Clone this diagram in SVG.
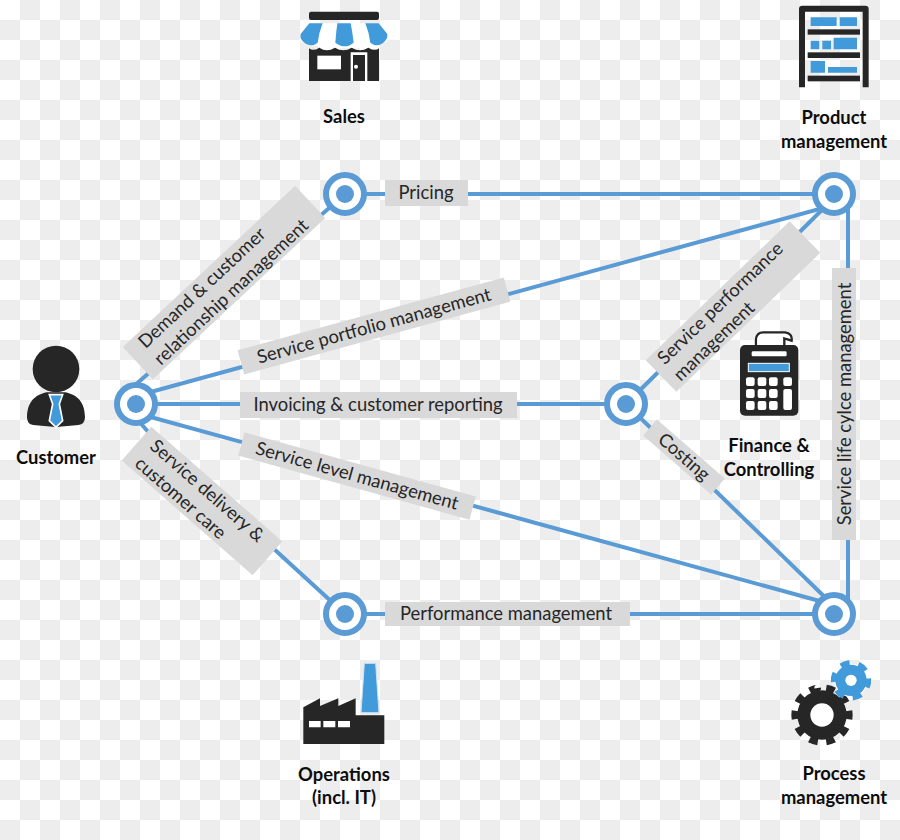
<svg xmlns="http://www.w3.org/2000/svg" width="900" height="840" viewBox="0 0 900 840">
<style>
text{font-family:"Lato","Open Sans","Liberation Sans",sans-serif;text-anchor:middle}
.t{font-size:18.4px;font-weight:700;fill:#0d0d0d}
.l{font-size:18.4px;fill:#262626}
.s{text-anchor:start}
.b{fill:#d9d9d9}
.c{fill:none;stroke:#5b9bd5;stroke-width:4}
.o{fill:#fff;stroke:#5b9bd5;stroke-width:6}
.i{fill:#5b9bd5}
.k{fill:#262626}
.u{fill:#419ad9}
.w{fill:#fff}
</style>
<defs>
<pattern id="ck" width="40" height="40" patternUnits="userSpaceOnUse"><rect width="40" height="40" fill="#fff"/><rect x="20" width="20" height="20" fill="#ededed"/><rect y="20" width="20" height="20" fill="#ededed"/></pattern>
<g id="node"><circle r="19" class="o"/><circle r="9" class="i"/></g>
</defs>
<rect id="background" width="900" height="840" fill="url(#ck)"/>
<g id="connectors">
<path class="c" d="M134 386L150 372"/>
<path class="c" d="M320 216L336 202"/>
<path class="c" d="M136 396L834 205"/>
<path class="c" d="M136 404H626"/>
<path class="c" d="M136 413L834 605"/>
<path class="c" d="M136 418L150 434"/>
<path class="c" d="M274 549L345 614"/>
<path class="c" d="M345 194H834"/>
<path class="c" d="M626 404L834 198"/>
<path class="c" d="M626 404L834 606"/>
<path class="c" d="M848 200V608"/>
<path class="c" d="M345 614H834"/>
</g>
<g id="edge-labels">
<g id="label-pricing"><rect class="b" x="385" y="180" width="83" height="26"/><text class="l" x="426" y="199">Pricing</text></g>
<g id="label-invoicing"><rect class="b" x="240" y="392" width="277" height="26"/><text class="l" x="378" y="411">Invoicing &amp; customer reporting</text></g>
<g id="label-performance"><rect class="b" x="385" y="602" width="245" height="24"/><text class="l" x="506" y="620">Performance management</text></g>
<g id="label-portfolio" transform="translate(374 326) rotate(-15.3)"><rect class="b" x="-138" y="-12.5" width="276" height="25"/><text class="l" y="6">Service portfolio management</text></g>
<g id="label-level" transform="translate(357 476) rotate(15.5)"><rect class="b" x="-120" y="-12" width="240" height="24"/><text class="l" y="6">Service level management</text></g>
<g id="label-demand" transform="translate(224 282.5) rotate(-43.1)"><rect class="b" x="-118" y="-22" width="236" height="44"/><text class="l s" x="-103" y="-5">Demand &amp; customer</text><text class="l s" x="-103" y="18">relationship management</text></g>
<g id="label-delivery" transform="translate(202 501) rotate(41.2)"><rect class="b" x="-87" y="-22.5" width="174" height="45"/><text class="l s" x="-75" y="-5">Service delivery &amp;</text><text class="l s" x="-75" y="18">customer care</text></g>
<g id="label-svcperf" transform="translate(733 306.5) rotate(-44)"><rect class="b" x="-100" y="-22" width="200" height="44"/><text class="l s" x="-90" y="-5">Service performance</text><text class="l s" x="-90" y="18">management</text></g>
<g id="label-costing" transform="translate(684 457) rotate(41)"><rect class="b" x="-45" y="-10.5" width="90" height="21"/><text class="l" y="6">Costing</text></g>
<g id="label-lifecycle" transform="translate(844 404) rotate(-90)"><rect class="b" x="-136" y="-12" width="272" height="24"/><text class="l" y="7">Service life cylce management</text></g>
</g>
<use id="node-customer" href="#node" x="136" y="404"/>
<use id="node-sales" href="#node" x="345" y="194"/>
<use id="node-product" href="#node" x="834" y="194"/>
<use id="node-finance" href="#node" x="626" y="404"/>
<use id="node-operations" href="#node" x="345" y="614"/>
<use id="node-process" href="#node" x="834" y="614"/>
<g id="sales">
<g transform="translate(280 0) scale(.3333)">
<rect class="k" x="87" y="35" width="210" height="25" rx="6"/>
<path class="w" d="M88 70H296L322 103V125L250 145H130L62 125V103Z"/>
<path class="k" d="M87 145Q100 155 118 143Q140 158 165 143Q190 158 215 143Q240 158 265 143Q285 155 297 145V243H87Z"/>
<rect class="w" x="112" y="167" width="71" height="41"/>
<path class="w" d="M212 157H262V243H255V165H219V243H212Z"/><circle class="w" cx="228" cy="200" r="6"/>
<path class="u" d="M88 70H128Q116 100 113 128Q95 143 75 130Q58 118 62 102Z"/>
<path class="u" d="M172 70H212Q218 100 221 128Q195 150 166 128Q168 100 172 70Z"/>
<path class="u" d="M256 70H296L322 102Q324 118 308 130Q290 143 271 128Q268 100 256 70Z"/>
</g>
<text class="t" x="344" y="123">Sales</text>
</g>
<g id="product">
<g transform="translate(770 0) scale(.3333)">
<path class="k" d="M87 262V27Q87 17 97 17H286Q296 17 296 27V262H278V35H105V262Z"/>
<rect class="k" x="113" y="88" width="157" height="16"/><rect class="k" x="113" y="157" width="157" height="17"/><rect class="k" x="113" y="227" width="157" height="17"/>
<path class="u" d="M122 52H200V78H122ZM209 52H261V78H209ZM122 122H148V148H122ZM157 122H183V148H157ZM191 113H261V148H191ZM122 183H165V218H122ZM174 201H261V218H174Z"/>
</g>
<text class="t" x="834" y="124">Product</text><text class="t" x="834" y="148">management</text>
</g>
<g id="customer">
<g transform="translate(0 330) scale(.3333)">
<circle class="k" cx="168" cy="117" r="70"/>
<path class="k" d="M140 187C105 195 82 215 81 262Q81 283 100 285C120 288 145 288 168 292C190 288 215 288 235 285Q255 283 255 262C254 215 232 195 196 187Z"/>
<path class="u" stroke="#fff" stroke-width="5" d="M148 194H188L178 222L188 272L168 292L148 272L158 222Z"/>
</g>
<text class="t" x="56" y="464">Customer</text>
</g>
<g id="finance">
<g transform="translate(600 210) scale(.3333)">
<path class="w" stroke="#262626" stroke-width="7" d="M468 425V388Q470 367 490 367H555Q578 370 575 392L553 385V425Z"/>
<rect class="k" x="420" y="405" width="175" height="212" rx="15"/>
<path class="w" d="M472 405V388Q473 373 490 373H553Q570 375 568 385L548 380V405Z"/>
<rect class="w" x="455" y="424" width="105" height="15" rx="4"/>
<rect class="u" stroke="#fff" stroke-width="3" x="445" y="460" width="123" height="25"/>
<g class="w"><rect x="438" y="502" width="26" height="26" rx="6"/><rect x="473" y="502" width="26" height="26" rx="6"/><rect x="507" y="502" width="26" height="26" rx="6"/><rect x="550" y="502" width="26" height="26" rx="6"/><rect x="438" y="537" width="26" height="27" rx="6"/><rect x="473" y="537" width="26" height="27" rx="6"/><rect x="507" y="537" width="26" height="27" rx="6"/><rect x="550" y="537" width="26" height="63" rx="6"/><rect x="438" y="573" width="26" height="27" rx="6"/><rect x="473" y="573" width="26" height="27" rx="6"/><rect x="507" y="573" width="26" height="27" rx="6"/></g>
</g>
<text class="t" x="769" y="452">Finance &amp;</text><text class="t" x="769" y="476">Controlling</text>
</g>
<g id="operations">
<g transform="translate(285 650) scale(.3333)">
<path class="u" stroke="#cfe3f3" stroke-width="3" d="M238 40H272L282 188H228Z"/>
<path class="k" d="M55 282V172L105 145V168L160 145V168L212 145V196H298V282Z"/>
<path class="w" d="M72 213H107V232H72ZM115 213H151V232H115ZM159 213H195V232H159Z"/>
</g>
<text class="t" x="344" y="781">Operations</text><text class="t" x="344" y="804">(incl. IT)</text>
</g>
<g id="process">
<g transform="translate(770 580) scale(.3333)">
<circle class="k" cx="156" cy="405" r="74"/>
<circle cx="156" cy="405" r="82" fill="none" stroke="#262626" stroke-width="20" pathLength="20" stroke-dasharray="1 1" transform="rotate(-9 156 405)"/>
<circle class="w" cx="156" cy="405" r="35"/>
<circle class="w" cx="243" cy="301" r="50"/>
<circle class="u" cx="243" cy="301" r="47"/>
<circle cx="243" cy="301" r="52" fill="none" stroke="#419ad9" stroke-width="17" pathLength="12" stroke-dasharray="1 1" transform="rotate(-6 243 301)"/>
<circle class="w" cx="243" cy="301" r="17"/>
</g>
<text class="t" x="834" y="780">Process</text><text class="t" x="834" y="804">management</text>
</g>
</svg>
